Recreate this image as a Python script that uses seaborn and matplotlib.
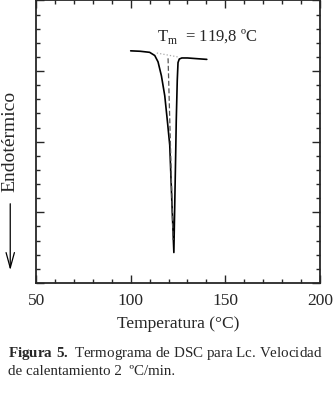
import numpy as np
import pandas as pd
import matplotlib
matplotlib.use("Agg")
import matplotlib.pyplot as plt
import seaborn as sns
from matplotlib.ticker import MultipleLocator

# DSC thermogram (heat flow in arbitrary units)
temp = [100, 105, 110, 112.7, 114.44, 116.24, 117.99, 119.42, 120.63, 121.69, 122.8,
        123.8, 124.07, 124.6, 125.0, 125.66, 127, 130, 135, 140.2]
flow = [3.286, 3.28, 3.265, 3.22, 3.13, 2.93, 2.65, 2.28, 1.95, 1.19, 0.43,
        1.88, 2.30, 2.87, 3.12, 3.17, 3.185, 3.185, 3.175, 3.165]

# baseline under the peak and the Tm marker
base_t = [113.8, 124.9]
base_f = [3.255, 3.20]
tm_line_t = [119.74, 122.38]
tm_line_f = [3.18, 0.61]

df = pd.DataFrame({"T": temp, "Q": flow})

sns.set_style("ticks")
plt.rcParams['font.family'] = ['Liberation Serif', 'DejaVu Sans']
plt.rcParams['mathtext.fontset'] = 'custom'
plt.rcParams['mathtext.rm'] = 'Liberation Serif'
plt.rcParams['mathtext.bf'] = 'Liberation Serif:bold'

fig = plt.figure(figsize=(3.34, 4.13), dpi=100)
ax = fig.add_axes([0.108, 0.315, 0.85, 0.684])

sns.lineplot(data=df, x="T", y="Q", ax=ax, color="black", lw=1.2, sort=False)
ax.plot(base_t, base_f, color="#aaaaaa", lw=0.9, ls=":")
ax.plot(tm_line_t, tm_line_f, color="#555555", lw=0.9, ls=(0, (4, 2)))

ax.text(140.7, 3.43, r"T$_{\mathrm{m}}$  = 119,8 ºC", ha="center", va="baseline", fontsize=12)

ax.set_xlim(50, 200)
ax.set_ylim(0, 4)
ax.xaxis.set_major_locator(MultipleLocator(50))
ax.xaxis.set_minor_locator(MultipleLocator(10))
ax.yaxis.set_major_locator(MultipleLocator(1))
ax.yaxis.set_minor_locator(MultipleLocator(0.2))
ax.tick_params(which="both", direction="in", top=True, right=True, width=1)
ax.tick_params(which="major", length=6, labelsize=12.5, pad=7)
ax.tick_params(which="minor", length=3)
ax.set_yticklabels([])
for s in ax.spines.values():
    s.set_linewidth(1.3)

ax.set_xlabel("Temperatura (°C)", fontsize=12.6, labelpad=5)
ax.set_ylabel("Endotérmico", fontsize=14)
ax.yaxis.set_label_coords(-0.062, 0.5)
# long arrow under the y label pointing down (endothermic direction)
ax.annotate("", xy=(-0.091, 0.035), xytext=(-0.091, 0.29), xycoords="axes fraction",
            annotation_clip=False,
            arrowprops=dict(arrowstyle="->, head_length=1.1, head_width=0.3", lw=0.9, color="black"))

fig.text(0.025, 0.136, r"$\mathbf{Figura\ 5.}$ Termograma de DSC para Lc. Velocidad", fontsize=10.8)
fig.text(0.025, 0.092, "de calentamiento 2  ºC/min.", fontsize=10.8)

fig.savefig("out.png", dpi=100)
